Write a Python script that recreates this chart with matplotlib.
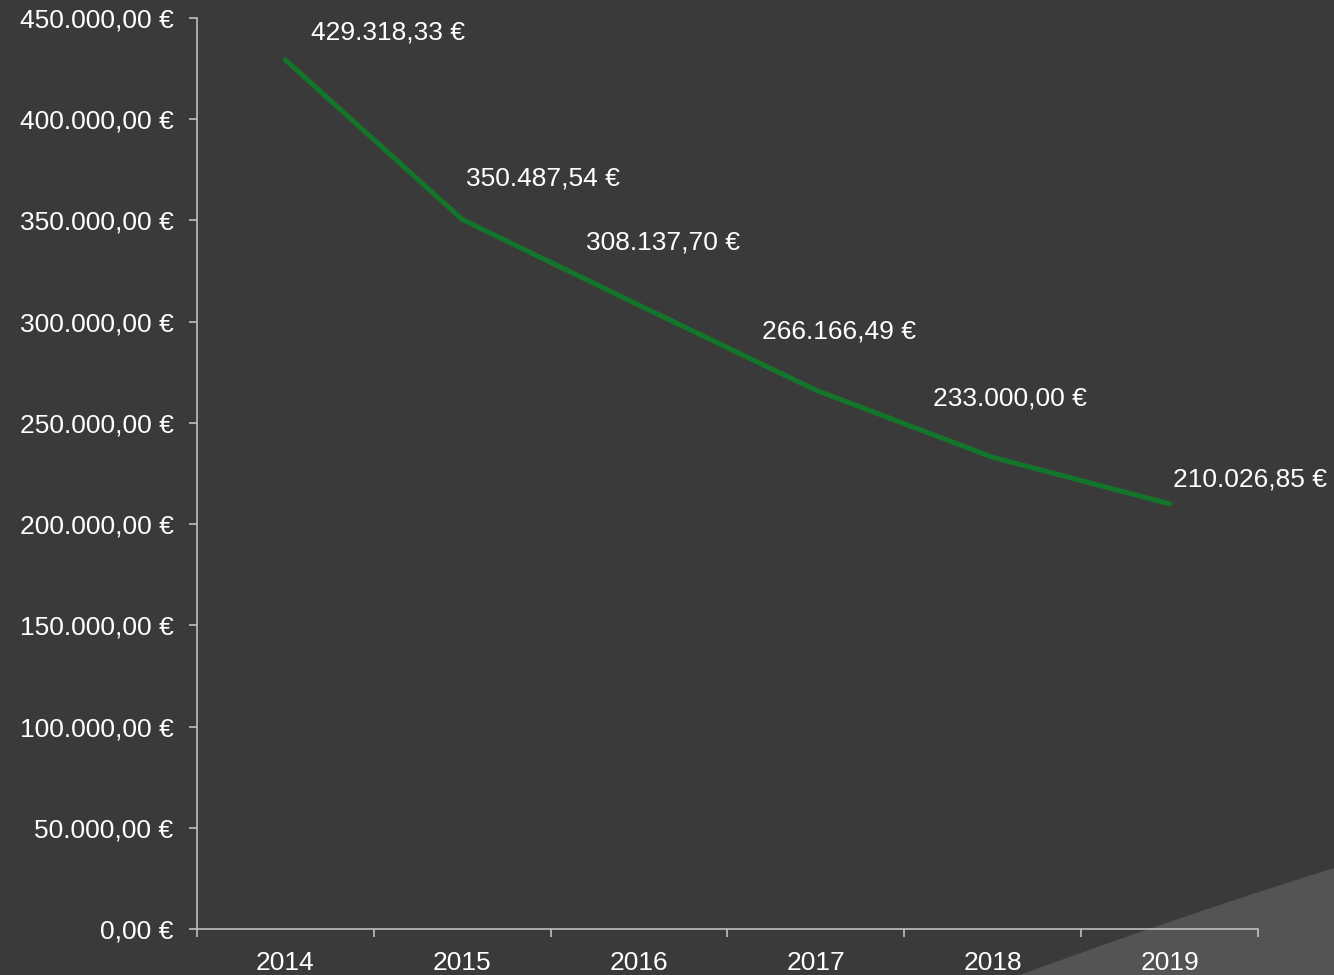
import matplotlib.pyplot as plt
from matplotlib.patches import Polygon
import numpy as np

years = ['2014', '2015', '2016', '2017', '2018', '2019']
values = [429318.33, 350487.54, 308137.70, 266166.49, 233000.00, 210026.85]
# label offsets (pixels) relative to each point
label_dx = [26, 4, -53, -54, -60, 3]
label_dy = [27, 41, 63, 59, 59, 24]

bg = '#3a3a3a'
axcol = '#bfbfbf'


def euro(v):
    s = f'{v:,.2f}'.replace(',', 'X').replace('.', ',').replace('X', '.')
    return s + ' €'


plt.rcParams['font.family'] = ['Liberation Sans', 'DejaVu Sans']

fig = plt.figure(figsize=(13.34, 9.75), dpi=100, facecolor=bg)

# lighter wedge at the bottom right corner
t = np.linspace(0, 1, 30)
wx = 1020 + (1334 - 1020) * t
wy = 975 - (975 - 868) * (t + 0.08 * t * (1 - t))
pts = [(x / 1334, 1 - y / 975) for x, y in zip(wx, wy)] + [(1, 0)]
fig.patches.append(Polygon(pts, closed=True, transform=fig.transFigure,
                           facecolor='#545454', edgecolor='none', zorder=0))

ax = fig.add_axes([197 / 1334, 1 - 929 / 975, (1258 - 197) / 1334, (929 - 18) / 975])
ax.set_facecolor('none')
ax.set_zorder(2)

x = np.arange(len(years))
ax.plot(x, values, color='#13752a', lw=3.6, solid_capstyle='round', zorder=3)

for xi, v, dx, dy in zip(x, values, label_dx, label_dy):
    ax.annotate(euro(v), (xi, v), xytext=(dx, dy), textcoords='offset pixels',
                color='white', fontsize=19, ha='left', va='center')

ax.set_xlim(-0.5, len(years) - 0.5)
ax.set_ylim(0, 450000)
ax.set_yticks(np.arange(0, 450001, 50000))
ax.set_yticklabels([euro(v) for v in np.arange(0, 450001, 50000)])
ax.set_xticks(x)
ax.set_xticklabels(years)
ax.set_xticks(np.arange(-0.5, len(years), 1), minor=True)

for s in ['top', 'right']:
    ax.spines[s].set_visible(False)
for s in ['left', 'bottom']:
    ax.spines[s].set_color(axcol)
    ax.spines[s].set_linewidth(1.2)

ax.tick_params(axis='x', which='major', length=0, pad=16, labelsize=19, labelcolor='white')
ax.tick_params(axis='x', which='minor', length=6, width=1.2, color=axcol)
ax.tick_params(axis='y', length=6, width=1.2, color=axcol, pad=11, labelsize=19, labelcolor='white')

fig.savefig('out.png', dpi=100, facecolor=bg)
